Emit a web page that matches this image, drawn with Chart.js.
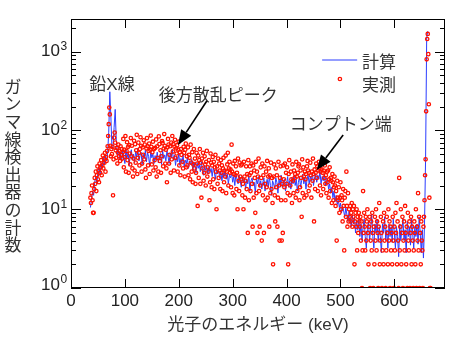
<!DOCTYPE html>
<html>
<head>
<meta charset="utf-8">
<script src="https://cdn.jsdelivr.net/npm/chart.js@4.4.1/dist/chart.umd.min.js"></script>
<style>
  html, body { margin: 0; padding: 0; background: #fff; }
</style>
</head>
<body>
<canvas id="spectrum" width="450" height="344"></canvas>
<script>
// calculated spectrum: one value every 2 keV starting at 36 keV
const calcStartKeV = 36;
const calcStepKeV = 2;
const calcCounts = [
  10.5, 13, 17, 15, 22, 26, 21, 30, 34, 28,
  38, 33, 45, 37, 48, 41, 52, 95, 310, 150,
  58, 62, 110, 185, 75, 50, 56, 44, 52, 40,
  55, 47, 38, 58, 45, 52, 36, 49, 57, 42,
  50, 39, 55, 46, 60, 41, 48, 53, 37, 50,
  44, 56, 40, 52, 47, 35, 55, 45, 50, 38,
  48, 42, 53, 39, 46, 51, 37, 56, 44, 49,
  41, 55, 47, 38, 52, 45, 58, 42, 49, 36,
  47, 40, 51, 36, 44, 39, 49, 34, 42, 38,
  45, 33, 41, 37, 43, 31, 40, 35, 29, 39,
  33, 37, 30, 40, 32, 27, 36, 31, 34, 28,
  35, 30, 33, 26, 34, 29, 24, 32, 28, 31,
  25, 30, 23, 29, 26, 32, 24, 28, 21, 27,
  25, 29, 22, 26, 20, 28, 24, 21, 27, 23,
  19, 26, 22, 25, 18, 24, 21, 27, 17, 23,
  25, 20, 22, 16, 24, 21, 26, 19, 23, 18,
  22, 25, 17, 21, 24, 19, 26, 20, 15, 23,
  21, 18, 25, 22, 16, 24, 20, 27, 19, 22,
  24, 17, 21, 26, 19, 23, 18, 25, 21, 27,
  20, 24, 17, 22, 26, 19, 23, 28, 21, 25,
  18, 24, 27, 21, 26, 23, 29, 20, 25, 28,
  22, 27, 24, 30, 21, 26, 23, 28, 20, 25,
  23, 18, 21, 16, 19, 14, 17, 12.5, 15, 11.5,
  13, 10.5, 12, 9, 11, 9.5, 8, 10.5, 8.5, 7,
  9.5, 7.5, 6, 8.5, 6.5, 8, 5, 7, 5.5, 7.5,
  4.5, 6.5, 4, 6, 7.5, 4.5, 3.2, 5.5, 7, 4,
  5.5, 8.5, 4.5, 3.2, 6.5, 5, 7.5, 3.8, 6, 4.5,
  2.8, 6.5, 5, 8, 4, 5.5, 3.2, 6.5, 4.5, 6,
  3.8, 7.5, 5, 3.2, 6, 4.5, 2.5, 6.5, 4, 5.5,
  7.5, 4, 5.5, 2.8, 7, 4.5, 6, 3.5, 7.5, 5,
  3.2, 6, 4.5, 6.5, 3.6, 8, 5, 2.8, 5.5, 2.4,
  6.5, 45, 1500, 1820, 0
];

// measured spectrum: one value per keV starting at 36 keV
const measStartKeV = 36;
const measStepKeV = 1;
const measCounts = [
  14, 12, 16, 20, 13, 9, 9, 18, 25, 21, 30, 17, 27, 35, 24, 31, 22, 38, 29, 34,
  42, 27, 36, 48, 33, 44, 39, 52, 30, 46, 41, 55, 63, 85, 120, 195, 160, 64, 47, 58,
  50, 62, 15, 43, 81, 94, 70, 56, 45, 60, 38, 52, 66, 47, 55, 41, 63, 49, 58, 44,
  53, 78, 34, 57, 46, 85, 30, 55, 71, 42, 62, 29, 65, 51, 37, 80, 47, 64, 33, 26,
  44, 74, 31, 67, 39, 56, 88, 28, 45, 70, 52, 36, 58, 82, 64, 30, 38, 61, 49, 75,
  43, 66, 32, 25, 59, 80, 63, 36, 55, 68, 28, 57, 86, 62, 37, 53, 72, 31, 58, 42,
  60, 34, 77, 26, 63, 45, 30, 84, 67, 41, 56, 29, 47, 73, 69, 35, 59, 90, 64, 38,
  57, 33, 22, 61, 78, 66, 38, 49, 63, 29, 70, 43, 85, 54, 67, 31, 62, 76, 45, 59,
  51, 65, 30, 57, 72, 36, 53, 27, 58, 49, 80, 40, 33, 62, 52, 26, 57, 68, 34, 47,
  36, 61, 27, 49, 45, 24, 66, 39, 30, 53, 22, 37, 58, 33, 44, 21, 29, 52, 38, 11,
  48, 25, 42, 58, 21, 39, 14, 44, 33, 52, 23, 29, 47, 37, 20, 40, 55, 26, 34, 30,
  42, 13, 22, 51, 39, 19, 36, 46, 24, 40, 18, 34, 49, 30, 10, 35, 21, 44, 25, 38,
  31, 18, 42, 29, 36, 17, 33, 45, 22, 31, 26, 48, 16, 30, 37, 52, 20, 33, 40, 29,
  32, 19, 66, 30, 16, 38, 28, 15, 41, 27, 35, 18, 29, 10, 44, 23, 17, 39, 26, 36,
  24, 37, 15, 21, 10, 40, 26, 14, 23, 35, 18, 28, 5, 42, 13, 27, 35, 17, 29, 38,
  21, 6, 36, 14, 31, 25, 9, 40, 16, 30, 5, 26, 44, 17, 6, 20, 34, 25, 4, 38,
  15, 27, 5, 35, 21, 13, 30, 19, 41, 14, 26, 33, 6, 27, 16, 39, 18, 25, 12, 2,
  26, 37, 15, 7, 33, 19, 27, 6, 14, 40, 20, 4, 25, 35, 13, 4, 21, 5, 36, 24,
  19, 38, 13, 29, 21, 34, 16, 2, 28, 42, 15, 20, 30, 24, 12, 37, 23, 16, 31, 25,
  28, 14, 40, 26, 17, 29, 35, 37, 13, 19, 31, 25, 8, 43, 16, 34, 26, 14, 30, 24,
  28, 15, 35, 41, 31, 17, 29, 20, 39, 27, 14, 30, 23, 44, 28, 7, 32, 18, 29, 38,
  25, 35, 17, 31, 40, 33, 20, 30, 15, 32, 42, 29, 18, 31, 25, 36, 21, 27, 16, 30,
  22, 31, 14, 24, 34, 17, 25, 23, 12, 28, 22, 13, 19, 26, 20, 11, 17, 4, 23, 14,
  13, 19, 9, 14, 22, 10, 15, 13, 7, 18, 11, 3, 14, 17, 8, 30, 11, 6, 16, 7,
  10, 8, 11, 7, 9, 12, 6, 10, 8, 11, 2, 7, 9, 6, 10, 3, 8, 5, 9, 7,
  6, 8, 4, 7, 1, 3, 17, 5, 9, 6, 3, 8, 4, 7, 10, 5, 2, 6, 8, 1,
  4, 7, 3, 9, 5, 1, 6, 2, 8, 4, 10, 3, 7, 5, 1, 6, 12, 2, 4, 8,
  5, 1, 3, 7, 2, 9, 4, 6, 1, 3, 8, 5, 2, 10, 4, 7, 1, 6, 3, 5,
  2, 8, 4, 1, 6, 3, 9, 5, 12, 2, 7, 4, 1, 25, 3, 6, 10, 2, 5, 8,
  1, 4, 7, 3, 11, 5, 2, 6, 1, 9, 4, 3, 7, 1, 5, 8, 2, 6, 4, 1,
  3, 7, 5, 2, 10, 1, 6, 4, 16, 3, 8, 1, 5, 2, 7, 4, 3, 1, 6, 8,
  13, 27, 43, 175, 800, 1450, 1680, 930, 215, 14, 1, 1
];

const xTicks = [0, 100, 200, 300, 400, 500, 600];
const decades = [1, 10, 100, 1000];
const decadeExp = ['0', '1', '2', '3'];
const seriesNames = ['計算', '実測'];
const xTitle = '光子のエネルギー (keV)';
const yTitle = 'ガンマ線検出器の計数';

// annotation anchors in data units (keV, counts)
const notes = [
  { text: '鉛X線', at: [76, 378], align: 'center' },
  { text: '後方散乱ピーク', at: [163, 274], align: 'left' },
  { text: 'コンプトン端', at: [406, 117], align: 'left' }
];
const arrows = [
  { from: [252, 237], to: [198.5, 65.4] },
  { from: [505, 87.5], to: [456, 31.5] }
];

const latin = "'Liberation Sans', Arial, sans-serif";
const mixed = "'Liberation Sans', 'Noto Sans CJK JP', sans-serif";
const jp = "'Noto Sans CJK JP', sans-serif";
const ink = '#222';
const calcColor = '#2a3cff';
const measColor = '#ff1100';

const calcPoints = calcCounts.map((c, i) => ({ x: calcStartKeV + i * calcStepKeV, y: c }));
const measPoints = measCounts.map((c, i) => ({ x: measStartKeV + i * measStepKeV, y: c }));

const framePlugin = {
  id: 'frame',
  afterDraw(chart) {
    const { ctx, chartArea: a, scales: { x, y } } = chart;
    ctx.save();

    // box
    ctx.strokeStyle = '#000';
    ctx.lineWidth = 1;
    ctx.strokeRect(a.left + 0.5, a.top + 0.5, a.right - a.left - 1, a.bottom - a.top - 1);

    // inward ticks
    ctx.beginPath();
    xTicks.forEach(v => {
      const px = Math.round(x.getPixelForValue(v)) + 0.5;
      ctx.moveTo(px, a.bottom); ctx.lineTo(px, a.bottom - 9);
      ctx.moveTo(px, a.top); ctx.lineTo(px, a.top + 9);
    });
    decades.forEach(d => {
      for (let m = 1; m <= 9; m++) {
        const v = d * m;
        if (v > y.max) break;
        const py = Math.round(y.getPixelForValue(v)) + 0.5;
        const len = m === 1 ? 10 : 5;
        ctx.moveTo(a.left, py); ctx.lineTo(a.left + len, py);
        ctx.moveTo(a.right, py); ctx.lineTo(a.right - len, py);
      }
    });
    ctx.stroke();

    // y tick labels 10^n
    ctx.fillStyle = ink;
    ctx.textBaseline = 'middle';
    decades.forEach((d, i) => {
      let py = y.getPixelForValue(d);
      if (i === 0) py -= 3;
      ctx.font = '17px ' + latin;
      ctx.textAlign = 'right';
      ctx.fillText('10', 60, py);
      ctx.font = '12px ' + latin;
      ctx.textAlign = 'left';
      ctx.fillText(decadeExp[i], 60.5, py - 5);
    });

    // vertical y title, one character per line
    ctx.font = '17px ' + jp;
    ctx.fillStyle = '#333';
    ctx.textAlign = 'center';
    const mid = (a.top + a.bottom) / 2 + 12;
    [...yTitle].forEach((ch, i) => {
      ctx.fillText(ch, 13, mid + (i - (yTitle.length - 1) / 2) * 17.6);
    });

    // annotations
    ctx.font = '17px ' + mixed;
    notes.forEach(n => {
      ctx.textAlign = n.align;
      ctx.fillText(n.text, x.getPixelForValue(n.at[0]), y.getPixelForValue(n.at[1]));
    });
    ctx.strokeStyle = '#000';
    ctx.fillStyle = '#000';
    ctx.lineWidth = 1.6;
    arrows.forEach(ar => {
      const x0 = x.getPixelForValue(ar.from[0]), y0 = y.getPixelForValue(ar.from[1]);
      const x1 = x.getPixelForValue(ar.to[0]), y1 = y.getPixelForValue(ar.to[1]);
      const len = Math.hypot(x1 - x0, y1 - y0);
      const ux = (x1 - x0) / len, uy = (y1 - y0) / len;
      const bx = x1 - ux * 15, by = y1 - uy * 15;
      ctx.beginPath();
      ctx.moveTo(x0, y0); ctx.lineTo(bx, by);
      ctx.stroke();
      ctx.beginPath();
      ctx.moveTo(x1, y1);
      ctx.lineTo(bx - uy * 6, by + ux * 6);
      ctx.lineTo(bx + uy * 6, by - ux * 6);
      ctx.closePath();
      ctx.fill();
    });

    // legend
    const ly1 = y.getPixelForValue(784), ly2 = y.getPixelForValue(378);
    ctx.strokeStyle = calcColor;
    ctx.lineWidth = 1;
    ctx.beginPath();
    ctx.moveTo(x.getPixelForValue(466), ly1);
    ctx.lineTo(x.getPixelForValue(531), ly1);
    ctx.stroke();
    ctx.strokeStyle = measColor;
    ctx.lineWidth = 1.3;
    ctx.beginPath();
    ctx.arc(x.getPixelForValue(499), y.getPixelForValue(450), 1.7, 0, Math.PI * 2);
    ctx.stroke();
    ctx.font = '17px ' + jp;
    ctx.fillStyle = '#333';
    ctx.textAlign = 'left';
    ctx.fillText(seriesNames[0], x.getPixelForValue(540), ly1 + 2);
    ctx.fillText(seriesNames[1], x.getPixelForValue(540), ly2);

    ctx.restore();
  }
};

new Chart(document.getElementById('spectrum'), {
  type: 'scatter',
  data: {
    datasets: [
      {
        label: seriesNames[1],
        data: measPoints,
        showLine: false,
        pointRadius: 1.7,
        pointHoverRadius: 1.7,
        pointBorderWidth: 1.3,
        borderColor: measColor,
        backgroundColor: 'rgba(255,255,255,0)',
        order: 1
      },
      {
        label: seriesNames[0],
        data: calcPoints,
        showLine: true,
        borderColor: calcColor,
        borderWidth: 1,
        pointRadius: 0,
        tension: 0,
        order: 2
      }
    ]
  },
  options: {
    responsive: false,
    animation: false,
    devicePixelRatio: 1,
    layout: { padding: { top: 19, right: 5, left: 0, bottom: 0 } },
    plugins: { legend: { display: false }, tooltip: { enabled: false } },
    scales: {
      x: {
        type: 'linear',
        min: 0,
        max: 694,
        afterFit(s) { s.height = 56; },
        afterBuildTicks(s) { s.ticks = xTicks.map(v => ({ value: v })); },
        grid: { display: false, drawTicks: false },
        border: { display: false },
        ticks: { padding: 3, color: ink, font: { family: latin, size: 17 } },
        title: { display: true, text: xTitle, color: '#333', padding: { top: 0, bottom: 8 }, font: { family: mixed, size: 17 } }
      },
      y: {
        type: 'logarithmic',
        min: 1,
        max: 2600,
        afterFit(s) { s.width = 71; },
        grid: { display: false, drawTicks: false },
        border: { display: false },
        ticks: { display: false }
      }
    }
  },
  plugins: [framePlugin]
});
</script>
</body>
</html>
